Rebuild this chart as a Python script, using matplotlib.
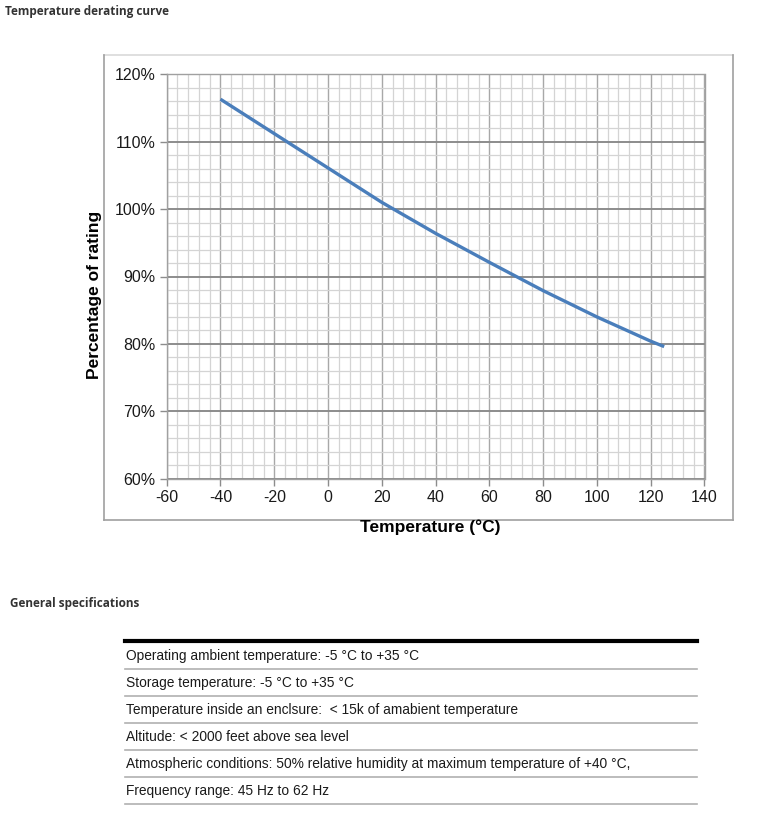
import matplotlib
matplotlib.use("Agg")
import matplotlib.pyplot as plt
from matplotlib import font_manager as fm
from matplotlib.lines import Line2D
from matplotlib.ticker import MultipleLocator, FuncFormatter

# ---- data ----
temperatures = [-40, -20, 0, 20, 40, 60, 80, 100, 120, 125]
rating_pct = [116.3, 111.2, 106.1, 101.0, 96.4, 92.1, 87.9, 84.0, 80.4, 79.6]

title_text = "Temperature derating curve"
x_label = "Temperature (°C)"
y_label = "Percentage of rating"
spec_title = "General specifications"
spec_rows = [
    "Operating ambient temperature: -5 °C to +35 °C",
    "Storage temperature: -5 °C to +35 °C",
    "Temperature inside an enclsure:  < 15k of amabient temperature",
    "Altitude: < 2000 feet above sea level",
    "Atmospheric conditions: 50% relative humidity at maximum temperature of +40 °C,",
    "Frequency range: 45 Hz to 62 Hz",
]

plt.rcParams["font.family"] = ["Liberation Sans", "DejaVu Sans"]
plt.rcParams["axes.unicode_minus"] = False

W, H = 762, 817
fig = plt.figure(figsize=(W / 100, H / 100), dpi=100)
fig.patch.set_facecolor("white")

def fx(px):
    return px / W

def fy(py):
    return 1 - py / H

# outer chart frame
fig.add_artist(Line2D([fx(104), fx(733)], [fy(55), fy(55)], color="#d9d9d9", lw=1.2))
fig.add_artist(Line2D([fx(733), fx(733)], [fy(55), fy(520)], color="#a0a0a0", lw=1.2))
fig.add_artist(Line2D([fx(104), fx(733)], [fy(520), fy(520)], color="#a0a0a0", lw=1.2))
fig.add_artist(Line2D([fx(104), fx(104)], [fy(55), fy(520)], color="#a0a0a0", lw=1.2))

ax = fig.add_axes([fx(166.7), fy(478.7), fx(704.5) - fx(166.7), fy(74.3) - fy(478.7)])
ax.set_xlim(-60, 140)
ax.set_ylim(60, 120)
ax.xaxis.set_major_locator(MultipleLocator(20))
ax.xaxis.set_minor_locator(MultipleLocator(4))
ax.yaxis.set_major_locator(MultipleLocator(10))
ax.yaxis.set_minor_locator(MultipleLocator(2))
ax.yaxis.set_major_formatter(FuncFormatter(lambda v, p: f"{v:.0f}%"))
ax.xaxis.set_major_formatter(FuncFormatter(lambda v, p: f"{v:.0f}"))
ax.grid(which="minor", color="#d4d4d4", lw=0.9)
ax.grid(which="major", axis="x", color="#a8a8a8", lw=1.0)
ax.grid(which="major", axis="y", color="#8c8c8c", lw=1.4)
ax.set_axisbelow(True)
for s in ax.spines.values():
    s.set_color("#a0a0a0")
    s.set_linewidth(1.0)
ax.tick_params(which="major", length=5, width=1, color="#8c8c8c",
               labelsize=11.5, labelcolor="#1a1a1a", pad=3)
ax.tick_params(which="minor", length=0)

ax.plot(temperatures, rating_pct, color="#4a7ebb", lw=2.4, solid_capstyle="butt")

fig.text(fx(430), fy(527), x_label, ha="center", va="center", fontsize=12.5,
         fontweight="bold", color="black")
fig.text(fx(95), fy(295), y_label, ha="center", va="center", rotation=90,
         fontsize=12.5, fontweight="bold", color="black")

fig.text(fx(5), fy(11), title_text, ha="left", va="center", fontsize=8.5,
         fontweight="bold", family="Open Sans", color="#333333")
fig.text(fx(10), fy(603), spec_title, ha="left", va="center", fontsize=8.5,
         fontweight="bold", family="Open Sans", color="#333333")

# spec table
row_font = fm.FontProperties(family=["Liberation Sans", "DejaVu Sans"], size=9.9)

fig.add_artist(Line2D([fx(125), fx(697)], [fy(641), fy(641)], color="black", lw=3))
row_y0 = 656
row_h = 27
for i, row in enumerate(spec_rows):
    yc = row_y0 + i * row_h
    fig.text(fx(126), fy(yc), row, ha="left", va="center",
             fontproperties=row_font, color="#1a1a1a")
    fig.add_artist(Line2D([fx(125), fx(697)], [fy(yc + 12.5), fy(yc + 12.5)],
                          color="#b0b0b0", lw=1.2))

fig.savefig("out.png", dpi=100, facecolor="white")
